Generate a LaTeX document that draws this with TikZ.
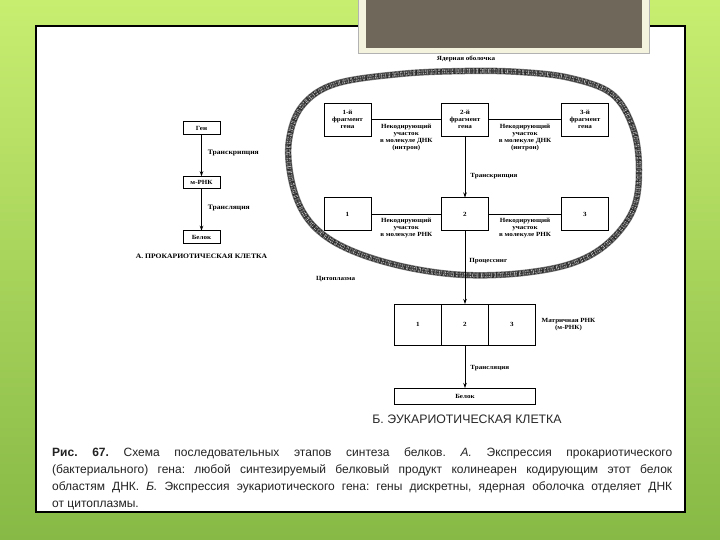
\documentclass[tikz,border=0pt]{standalone}
\usepackage{fontspec}
\setmainfont{Liberation Sans}
\newfontfamily\scanfont[FakeStretch=1.12, UprightFont={* Bold}]{Liberation Serif}
\usepackage{xcolor}
\usetikzlibrary{
    arrows.meta,
    positioning
}
\definecolor{slideTop}{RGB}{200,238,112}
\definecolor{slideBot}{RGB}{135,185,70}
\definecolor{titleBox}{RGB}{111,103,90}
\definecolor{titleRim}{RGB}{244,244,222}
\definecolor{capText}{RGB}{35,35,35}

\begin{document}
\begin{tikzpicture}[
  x=1pt, y=-1pt,
  box/.style={rectangle, draw=black, line width=0.8pt, fill=white,
    minimum width=37pt, minimum height=12.5pt, inner sep=0pt, outer sep=0pt,
    font=\scanfont\fontsize{6.3}{7}\selectfont, align=center},
  gene/.style={box, minimum width=47pt, minimum height=33pt},
  mcell/.style={box, minimum width=47pt, minimum height=41pt},
  lbl/.style={font=\scanfont\fontsize{6.3}{7}\selectfont,
    align=center, inner sep=0pt},
  lblA/.style={lbl, font=\scanfont\fontsize{6.8}{8}\selectfont},
  arr/.style={-{Stealth[length=5pt,width=3.5pt]}, line width=0.8pt},
  link/.style={line width=0.8pt},
  envA/.style={line width=6.5pt, draw=black!50},
  envB/.style={line width=5.5pt, draw=black!85,
    dash pattern=on 0.6pt off 0.5pt on 1.1pt off 0.7pt on 0.4pt off 0.9pt},
  envC/.style={line width=3.5pt, draw=white!90!black,
    dash pattern=on 0.3pt off 1.7pt on 0.5pt off 1.1pt on 0.4pt off 2.3pt},
  envD/.style={line width=1.2pt, draw=black!80,
    dash pattern=on 2.1pt off 0.6pt on 0.7pt off 1.3pt}
]
\useasboundingbox (0,0) rectangle (720,540);

%% -- Slide background -------------------------------------------------------
\shade[top color=slideTop, bottom color=slideBot] (0,0) rectangle (720,540);
\draw[line width=1.3pt, fill=white] (36,26) rectangle (685,512);
\draw[draw=black!30, fill=titleRim] (358,-2) rectangle (649,53);
\fill[titleBox] (366,-2) rectangle (642,48);

%% -- A: prokaryotic cell -----------------------------------------------------
\node[box] (gen) at (201.5,128) {Ген};
\node[box, below=42pt of gen] (mrnaA) {м-РНК};
\node[box, below=42pt of mrnaA] (belokA) {Белок};

\draw[arr] (gen) -- node[lblA, pos=0.45, right=6pt] {Транскрипция} (mrnaA);
\draw[arr] (mrnaA) -- node[lblA, pos=0.45, right=6pt] {Трансляция} (belokA);

\node[lblA, below=11pt of belokA] (capA) {А. ПРОКАРИОТИЧЕСКАЯ КЛЕТКА};

%% -- B: nuclear envelope -----------------------------------------------------
\foreach \sty in {envA,envB,envC,envD}
  \draw[\sty] plot[smooth cycle, tension=0.6] coordinates {
    (465,71) (520,72) (570,78) (612,94) (633,128) (639,170) (633,210)
    (608,243) (573,263) (523,273) (465,275) (410,268) (360,254) (325,236)
    (303,212) (291,178) (289,140) (302,106) (335,84) (400,74)};

\node[lbl] (envlbl) at (466,59) {Ядерная оболочка};
\node[lbl, anchor=west] (cyto) at (316,279) {Цитоплазма};

%% -- B: gene fragments (DNA) -------------------------------------------------
\node[gene] (g1) at (347.5,119.5) {1-й\\фрагмент\\гена};
\node[gene] (g2) at (465,119.5)   {2-й\\фрагмент\\гена};
\node[gene] (g3) at (585,119.5)   {3-й\\фрагмент\\гена};

\draw[link] (g1) -- node[lbl, below=4pt]
    {Некодирующий\\участок\\в молекуле ДНК\\(интрон)} (g2);
\draw[link] (g2) -- node[lbl, below=4pt]
    {Некодирующий\\участок\\в молекуле ДНК\\(интрон)} (g3);

%% -- B: primary transcript ---------------------------------------------------
\node[gene] (r1) at (347.5,214) {1};
\node[gene] (r2) at (465,214)   {2};
\node[gene] (r3) at (585,214)   {3};

\draw[link] (r1) -- node[lbl, below=4pt]
    {Некодирующий\\участок\\в молекуле РНК} (r2);
\draw[link] (r2) -- node[lbl, below=4pt]
    {Некодирующий\\участок\\в молекуле РНК} (r3);

\draw[arr] (g2) -- node[lbl, pos=0.65, right=5pt] {Транскрипция} (r2);

%% -- B: messenger RNA and protein --------------------------------------------
\node[mcell] (m2) at (465,324.5) {2};
\node[mcell, left=0pt of m2]  (m1) {1};
\node[mcell, right=0pt of m2] (m3) {3};
\node[lbl, right=6pt of m3] (mlbl) {Матричная РНК\\(м-РНК)};

\draw[arr] (r2) -- node[lbl, pos=0.42, right=4pt] {Процессинг} (m2);

\node[box, minimum width=141pt, minimum height=16pt, below=43pt of m2]
    (belokB) {Белок};
\draw[arr] (m2) -- node[lbl, pos=0.53, right=5pt] {Трансляция} (belokB);

\node[font=\fontsize{12.3}{14}\selectfont, text=black!85] (capB) at (467,419)
    {Б. ЭУКАРИОТИЧЕСКАЯ КЛЕТКА};

%% -- Figure caption ----------------------------------------------------------
\node[anchor=north west, text width=620pt, align=justify, inner sep=0pt,
      font=\fontsize{12}{17}\selectfont, text=capText] (fig) at (52,447)
    {\frenchspacing\tolerance=10000 \textbf{Рис. 67.} Схема последовательных
     этапов синтеза белков. \textit{А.} Экспрессия прокариотического\linebreak
     (бактериального) гена: любой синтезируемый белковый продукт колинеарен
     кодирующим этот белок\linebreak
     областям ДНК. \textit{Б.} Экспрессия эукариотического гена: гены
     дискретны, ядерная оболочка отделяет ДНК\linebreak
     от цитоплазмы.};

\end{tikzpicture}
\end{document}
